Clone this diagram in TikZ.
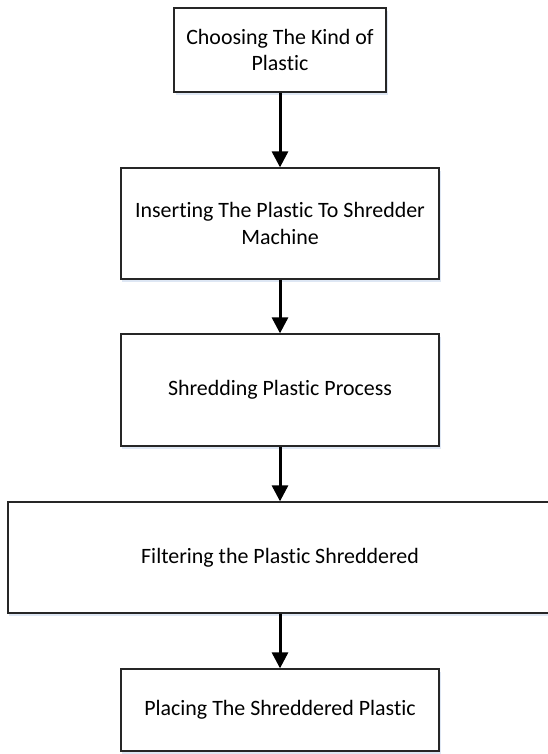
\documentclass[tikz,border=0pt]{standalone}
\usepackage{fontspec}
\setmainfont{Carlito}[Ligatures=NoCommon]
\usetikzlibrary{arrows.meta,shadows}
\definecolor{shadowblue}{RGB}{200,215,238}
\begin{document}
\begin{tikzpicture}[x=1bp,y=-1bp,
  stepbox/.style={draw=black!85, line width=1.3bp, fill=white, inner sep=0pt,
    align=center, font=\fontsize{22}{27}\selectfont,
    drop shadow={shadow xshift=1.5bp, shadow yshift=-3bp, fill=shadowblue, opacity=0.6}},
  flow/.style={line width=3bp, -{Triangle[width=16bp,length=16bp]}}]
\clip (0,0) rectangle (548,754);
\useasboundingbox (0,0) rectangle (548,754);
\fill[white] (0,0) rectangle (548,754);
\node[stepbox, minimum width=212bp, minimum height=84bp] (b1) at (280,50)
  {Choosing The Kind of\\Plastic};
\node[stepbox, minimum width=318bp, minimum height=111bp] (b2) at (280,223.5)
  {Inserting The Plastic To Shredder\\Machine};
\node[stepbox, minimum width=318bp, minimum height=112bp] (b3) at (280,390)
  {Shredding Plastic Process};
\node[stepbox, minimum width=544bp, minimum height=111bp] (b4) at (280,557.5)
  {Filtering the Plastic Shreddered};
\node[stepbox, minimum width=318bp, minimum height=82bp] (b5) at (280,710)
  {Placing The Shreddered Plastic};
\draw[flow] (b1.south) -- (b2.north);
\draw[flow] (b2.south) -- (b3.north);
\draw[flow] (b3.south) -- (b4.north);
\draw[flow] (b4.south) -- (b5.north);
\end{tikzpicture}
\end{document}
